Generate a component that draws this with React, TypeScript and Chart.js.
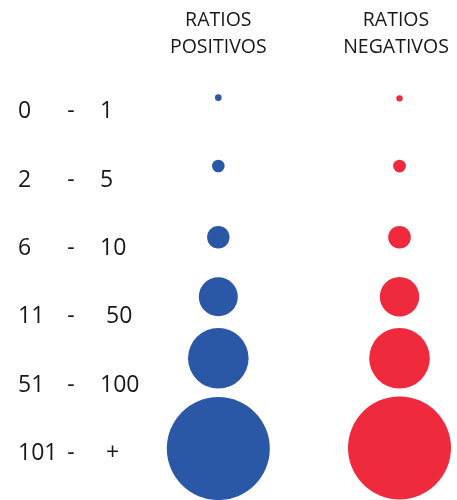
import { useEffect, useRef } from 'react';
import { Chart, registerables } from 'chart.js';

Chart.register(...registerables);

// ---- data ----
const rangeFrom = ['0', '2', '6', '11', '51', '101'];
const rangeTo = ['1', '5', '10', ' 50', '100', ' +'];
const seriesHeaders = [
  ['RATIOS', 'POSITIVOS'],
  ['RATIOS', 'NEGATIVOS'],
];
const positiveRowY = [-0.18, 0.82, 1.86, 2.73, 3.63, 4.95];
const positiveRadius = [3.3, 6.3, 11.2, 19.5, 30.3, 51.5];
const negativeRowY = [-0.17, 0.82, 1.86, 2.73, 3.63, 4.94];
const negativeRadius = [3.2, 6.4, 11.3, 19.7, 30.3, 51.5];

const BLUE = '#2a57a6';
const RED = '#ee2a3c';
const TEXT = '#1a1718';
const FONT = '"Open Sans", "Noto Sans", sans-serif';

const textPlugin = {
  id: 'textLabels',
  afterDatasetsDraw(chart: any) {
    const { ctx } = chart;
    const xs = chart.scales.x;
    const ys = chart.scales.y;
    ctx.save();
    ctx.fillStyle = TEXT;
    ctx.textBaseline = 'alphabetic';
    const fs = 23;
    ctx.font = `${fs}px ${FONT}`;
    rangeFrom.forEach((lo, i) => {
      const py = ys.getPixelForValue(i) + fs * 0.357;
      ctx.textAlign = 'left';
      ctx.fillText(lo, 18, py);
      ctx.textAlign = 'center';
      ctx.fillText('-', 71, py);
      ctx.textAlign = 'left';
      ctx.fillText(rangeTo[i], 100, py);
    });
    ctx.font = `19.5px ${FONT}`;
    ctx.textAlign = 'center';
    seriesHeaders.forEach((lines, i) => {
      const px = xs.getPixelForValue(i) - (i === 1 ? 3.5 : 0);
      lines.forEach((t, j) => ctx.fillText(t, px, 26 + j * 27.3));
    });
    ctx.restore();
  },
};

export default function App() {
  const ref = useRef<HTMLCanvasElement | null>(null);
  useEffect(() => {
    document.body.style.margin = '0';
    const canvas = ref.current!;
    const chart = new Chart(canvas, {
      type: 'bubble',
      data: {
        datasets: [
          {
            label: seriesHeaders[0].join(' '),
            data: positiveRowY.map((y, i) => ({ x: 0, y, r: positiveRadius[i] })),
            backgroundColor: BLUE,
            borderWidth: 0,
            hoverBorderWidth: 0,
            clip: false as any,
          },
          {
            label: seriesHeaders[1].join(' '),
            data: negativeRowY.map((y, i) => ({ x: 1, y, r: negativeRadius[i] })),
            backgroundColor: RED,
            borderWidth: 0,
            hoverBorderWidth: 0,
            clip: false as any,
          },
        ],
      },
      options: {
        animation: false,
        responsive: false,
        layout: { padding: 0, autoPadding: false },
        events: [],
        scales: {
          x: { type: 'linear', display: false, min: -1.2048, max: 1.3173 },
          y: { type: 'linear', display: false, reverse: true, min: -1.608, max: 5.702 },
        },
        plugins: {
          legend: { display: false },
          tooltip: { enabled: false },
        },
      },
      plugins: [textPlugin],
    });
    return () => chart.destroy();
  }, []);
  return (
    <div style={{ width: 457, height: 500, background: '#fff' }}>
      <canvas ref={ref} width={457} height={500} style={{ display: 'block' }} />
    </div>
  );
}
